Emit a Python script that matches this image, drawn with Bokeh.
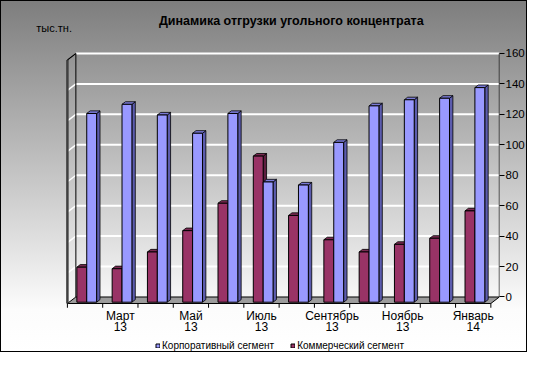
from bokeh.plotting import figure
from bokeh.models import Range1d, LinearAxis, FixedTicker, Legend, LegendItem, Label
from bokeh.core.properties import value
from bokeh.embed import file_html
from bokeh.resources import INLINE

# ---------------- data ----------------
months = ["Февраль 13", "Март 13", "Апрель 13", "Май 13", "Июнь 13", "Июль 13",
          "Август 13", "Сентябрь 13", "Октябрь 13", "Ноябрь 13", "Декабрь 13", "Январь 14"]
corporate = [124, 130, 123, 111, 124, 79, 77, 105, 129, 133, 134, 141]
commercial = [23, 22, 33, 47, 65, 96, 57, 41, 33, 38, 42, 60]
value_ticks = [0, 20, 40, 60, 80, 100, 120, 140, 160]
series_names = ["Корпоративный сегмент", "Коммерческий сегмент"]
chart_title = "Динамика отгрузки угольного концентрата"
unit_label = "тыс.тн."

# ---------------- geometry (3D look) ----------------
DX, DY = 0.24, 4.27          # full depth offset in data units
F0, F1 = 0.20, 0.60          # bar depth (front / back fraction)
BW = 0.28                    # bar width in category units
n = len(months)
vmax = value_ticks[-1]
FONT = "Liberation Sans"

Y0, Y1 = -32.2, 199.08
p = figure(width=527, height=352, output_backend="svg", toolbar_location=None,
           x_range=Range1d(-1.896, 12.245), y_range=Range1d(Y0, Y1),
           x_axis_location=None, y_axis_location=None,
           min_border_left=0, min_border_right=25, min_border_top=0, min_border_bottom=0)
p.outline_line_color = None
p.border_fill_alpha = 0
p.background_fill_alpha = 0
p.grid.visible = False
p.styles = {"background": "linear-gradient(to bottom, #7d7d7d 0%, #fcfcfc 88%, #ffffff 100%)",
            "box-shadow": "inset 0 0 0 1px #000000, inset -1px -1px 0 0 #000000"}

# floor
p.patch([0, n, n + DX, DX], [0, 0, DY, DY], fill_color="#9c9c9c", line_color="#000000", line_width=1)

# back wall grid lines + side wall diagonals
gy = [v + DY for v in value_ticks]
p.segment(x0=[DX] * (len(gy) - 1), y0=gy[1:], x1=[n + DX] * (len(gy) - 1), y1=gy[1:],
          line_color="#ffffff", line_width=2)
p.segment(x0=[0] * (len(gy) - 1), y0=value_ticks[1:], x1=[DX] * (len(gy) - 1), y1=gy[1:],
          line_color="#ffffff", line_width=1.5)

# side wall edges and back right edge
p.segment(x0=[0], y0=[0], x1=[0], y1=[vmax], line_color="#404040", line_width=2.5)
p.segment(x0=[DX], y0=[DY], x1=[DX], y1=[vmax + DY], line_color="#000000", line_width=1)
p.segment(x0=[0], y0=[vmax], x1=[DX], y1=[vmax + DY], line_color="#000000", line_width=1.5)
p.segment(x0=[n + DX], y0=[DY], x1=[n + DX], y1=[vmax + DY], line_color="#000000", line_width=1)

# category tick marks on the front floor edge
p.segment(x0=list(range(n + 1)), y0=[0] * (n + 1), x1=list(range(n + 1)), y1=[-2.8] * (n + 1),
          line_color="#000000", line_width=1)

dd = F1 - F0


def bars(values, offset, front, top, side):
    left = [i + 0.5 + F0 * DX + offset for i in range(n)]
    right = [l + BW for l in left]
    bottom = [F0 * DY] * n
    tops = [v + F0 * DY for v in values]
    side_xs = [[r, r + dd * DX, r + dd * DX, r] for r in right]
    side_ys = [[b, b + dd * DY, t + dd * DY, t] for b, t in zip(bottom, tops)]
    top_xs = [[l, r, r + dd * DX, l + dd * DX] for l, r in zip(left, right)]
    top_ys = [[t, t, t + dd * DY, t + dd * DY] for t in tops]
    p.patches(side_xs, side_ys, fill_color=side, line_color="#000000", line_width=0.8)
    p.patches(top_xs, top_ys, fill_color=top, line_color="#000000", line_width=0.8)
    return p.quad(left=left, right=right, bottom=bottom, top=tops,
                  fill_color=front, line_color="#000000", line_width=1)


r_comm = bars(commercial, -BW, "#993366", "#7a2952", "#5e1f40")
r_corp = bars(corporate, 0.0, "#9999ff", "#7a7ad6", "#5c5cae")

# right value axis (back plane)
p.extra_y_ranges = {"back": Range1d(Y0 - DY, Y1 - DY)}
ax_r = LinearAxis(y_range_name="back", ticker=FixedTicker(ticks=value_ticks))
ax_r.axis_line_color = None
ax_r.major_tick_out = 5
ax_r.major_tick_in = 0
ax_r.minor_tick_out = 0
ax_r.minor_tick_in = 0
ax_r.major_tick_line_color = "#000000"
ax_r.major_label_text_font = FONT
ax_r.major_label_text_font_size = "11.5px"
ax_r.major_label_text_color = "#000000"
ax_r.major_label_standoff = 1
p.add_layout(ax_r, "right")

# category labels (every second month), two lines
lab_idx = list(range(1, n, 2))
lab_x = [i + 0.5 for i in lab_idx]
lab_name = [months[i].split(" ")[0] for i in lab_idx]
lab_year = [months[i].split(" ")[1] for i in lab_idx]
p.text(x=lab_x, y=[-7.9] * len(lab_x), text=lab_name, text_font=value(FONT), text_font_size="12px",
       text_align="center", text_baseline="middle", text_color="#000000")
p.text(x=lab_x, y=[-15.1] * len(lab_x), text=lab_year, text_font=value(FONT), text_font_size="12px",
       text_align="center", text_baseline="middle", text_color="#000000")

# legend
legend = Legend(items=[LegendItem(label=series_names[0], renderers=[r_corp]),
                       LegendItem(label=series_names[1], renderers=[r_comm])],
                orientation="horizontal", location=(155, 1),
                glyph_width=5, glyph_height=5, label_standoff=2, spacing=16,
                padding=0, margin=0, border_line_color=None, background_fill_alpha=0,
                label_text_font=FONT, label_text_font_size="10px", label_height=10,
                label_text_color="#000000")
p.add_layout(legend, "center")

# title and unit
p.add_layout(Label(x=6.344, y=185.9, text=chart_title,
                   text_font=FONT, text_font_size="12.5px", text_font_style="bold",
                   text_align="center", text_baseline="middle", text_color="#000000"))
p.add_layout(Label(x=-0.882, y=180.7, text=unit_label,
                   text_font=FONT, text_font_size="11px",
                   text_align="left", text_baseline="middle", text_color="#000000"))

open("out.html", "w").write(file_html(p, INLINE))
